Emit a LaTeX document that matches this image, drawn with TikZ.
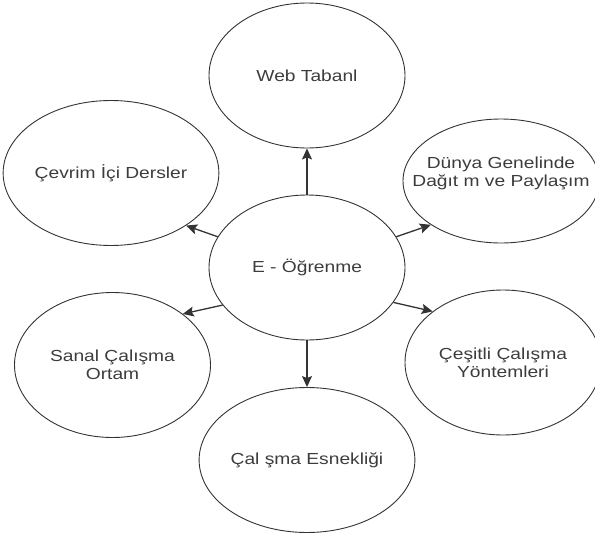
\documentclass[tikz,border=0pt]{standalone}
\usepackage{fontspec}
\setmainfont{Liberation Sans}[FakeStretch=1.2]
\usetikzlibrary{arrows.meta,shapes.geometric}
\definecolor{inkline}{HTML}{333333}
\definecolor{inktext}{HTML}{3C3C3C}
\tikzset{
  bubble/.style={ellipse, draw=inkline, line width=0.9pt, inner sep=0pt,
    minimum width=196pt, minimum height=145pt, align=center,
    text=inktext, font=\fontsize{16}{18}\selectfont},
  link/.style={draw=inkline, line width=1.3pt,
    -{Stealth[length=11pt,width=10pt,inset=2pt]}}
}
\begin{document}
\begin{tikzpicture}[x=1pt,y=-1pt]
  \useasboundingbox (0,0) rectangle (595,536);
  % hub
  \node[bubble] (hub) at (307,267.5) {E - Öğrenme};
  % surrounding topics
  \node[bubble] (web) at (307,75.5) {Web Tabanl};
  \node[bubble] (online) at (111,173) {Çevrim İçi Dersler};
  \node[bubble, minimum height=124pt,
        label={[name=worldtext, yshift=8pt, align=center, text=inktext,
                font=\fontsize{16}{18}\selectfont]center:Dünya Genelinde\\Dağıt m ve Paylaşım}]
        (world) at (501,181) {};
  \node[bubble] (virtual) at (112.5,365) {Sanal Çalışma\\Ortam};
  \node[bubble] (methods) at (503,362.5) {Çeşitli Çalışma\\Yöntemleri};
  \node[bubble] (flex) at (307,460) {Çal şma Esnekliği};
  % arrows from the hub
  \draw[link] (hub.north) -- (web.south);
  \draw[link] (hub.south) -- (flex.north);
  \draw[link] (hub.161) -- (online.325);
  \draw[link] (hub.19) -- (world.212);
  \draw[link] (hub.204) -- (virtual.36);
  \draw[link] (hub.338) -- (methods.144);
\end{tikzpicture}
\end{document}
